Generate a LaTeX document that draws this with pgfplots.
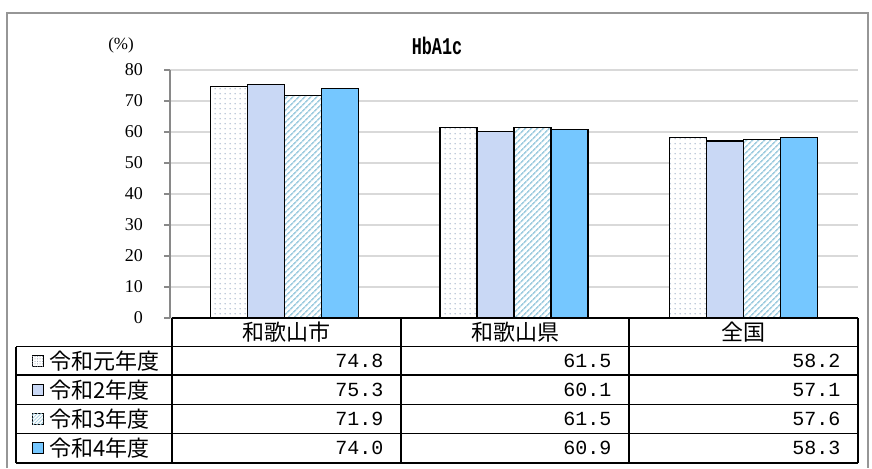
\documentclass[border=0pt]{standalone}
\usepackage{pgfplots}
\pgfplotsset{compat=1.18}
\usepackage{fontspec}
\setmainfont{Liberation Serif}
\newfontfamily\jp{Noto Sans CJK JP}
\newfontfamily\mono{Liberation Mono}
\newfontfamily\titlefont[FakeStretch=0.7]{Liberation Mono}
\usetikzlibrary{patterns.meta}
\definecolor{c2}{RGB}{201,216,245}
\definecolor{c4}{RGB}{117,199,255}
\definecolor{dotc}{RGB}{170,185,205}
\definecolor{stripec}{RGB}{160,205,224}
\definecolor{gridc}{RGB}{217,217,217}
\definecolor{axc}{RGB}{137,137,137}
\definecolor{framec}{RGB}{150,150,150}
\begin{document}
\begin{tikzpicture}[x=1pt,y=1pt]
\path (0,0) rectangle (872,468);
\draw[framec, line width=1.5pt] (7,0)--(7,455)--(868,455)--(868,0);
\begin{axis}[at={(170pt,150pt)}, anchor=south west, scale only axis,
  width=688pt, height=248pt,
  xmin=-0.5, xmax=2.5, ymin=0, ymax=80,
  ytick={0,10,...,80}, xtick=\empty,
  ybar=0pt, bar width=37pt,
  axis x line=none, axis y line*=left,
  y axis line style={axc, line width=1.2pt},
  ytick style={axc, line width=1.2pt},
  tick align=outside, major tick length=6pt,
  ymajorgrids, grid style={gridc, line width=1.2pt},
  /pgf/number format/assume math mode=true,
  yticklabel style={font=\fontsize{18}{18}\selectfont, inner sep=0pt, xshift=-21pt},
]
\addplot[draw=black, line width=1.2pt, fill=white,
  postaction={pattern={Dots[distance=5pt,radius=0.75pt]}, pattern color=dotc}]
  coordinates {(0,74.8) (1,61.5) (2,58.2)};
\addplot[draw=black, line width=1.2pt, fill=c2]
  coordinates {(0,75.3) (1,60.1) (2,57.1)};
\addplot[draw=black, line width=1.2pt, fill=white,
  postaction={pattern={Lines[angle=45,distance=4pt,line width=1.7pt]}, pattern color=stripec}]
  coordinates {(0,71.9) (1,61.5) (2,57.6)};
\addplot[draw=black, line width=1.2pt, fill=c4]
  coordinates {(0,74.0) (1,60.9) (2,58.3)};
\end{axis}
% title and unit
\node[font=\fontsize{24}{24}\selectfont\titlefont\bfseries] at (437,422) {HbA1c};
\node[font=\fontsize{17}{17}\selectfont] at (121,423) {(\%)};
% table lines
\begin{scope}[line width=1.6pt]
\draw (172,150)--(858,150);
\draw (16,121.5)--(858,121.5);
\draw (16,93)--(858,93);
\draw (16,63.5)--(858,63.5);
\draw (16,34.5)--(858,34.5);
\draw (16,5)--(858,5);
\draw (16,5)--(16,121.5);
\draw (172,5)--(172,150);
\draw (401,5)--(401,150);
\draw (629,5)--(629,150);
\draw (858,5)--(858,150);
\end{scope}
% header
\begin{scope}[font=\fontsize{22}{22}\selectfont\jp]
\node at (286.5,135.5) {和歌山市};
\node at (515,135.5) {和歌山県};
\node at (743.5,135.5) {全国};
\node[anchor=west] at (46,107) {令和元年度};
\node[anchor=west] at (46,78) {令和2年度};
\node[anchor=west] at (46,49) {令和3年度};
\node[anchor=west] at (46,20) {令和4年度};
\end{scope}
% legend swatches
\draw[line width=0.9pt, fill=white, postaction={pattern={Dots[distance=2.5pt,radius=0.5pt]}, pattern color=dotc!80!black}] (32,101.5) rectangle (43,112.5);
\draw[line width=0.9pt, fill=c2] (32,72.5) rectangle (43,83.5);
\draw[line width=0.9pt, fill=white, postaction={pattern={Lines[angle=45,distance=2.5pt,line width=0.8pt]}, pattern color=stripec}] (32,43.5) rectangle (43,54.5);
\draw[line width=0.9pt, fill=c4] (32,14.5) rectangle (43,25.5);
% values
\begin{scope}[font=\fontsize{20}{20}\selectfont\mono]
\node[anchor=east] at (387,107) {74.8};
\node[anchor=east] at (387,78) {75.3};
\node[anchor=east] at (387,49) {71.9};
\node[anchor=east] at (387,20) {74.0};
\node[anchor=east] at (615,107) {61.5};
\node[anchor=east] at (615,78) {60.1};
\node[anchor=east] at (615,49) {61.5};
\node[anchor=east] at (615,20) {60.9};
\node[anchor=east] at (844,107) {58.2};
\node[anchor=east] at (844,78) {57.1};
\node[anchor=east] at (844,49) {57.6};
\node[anchor=east] at (844,20) {58.3};
\end{scope}
\end{tikzpicture}
\end{document}
